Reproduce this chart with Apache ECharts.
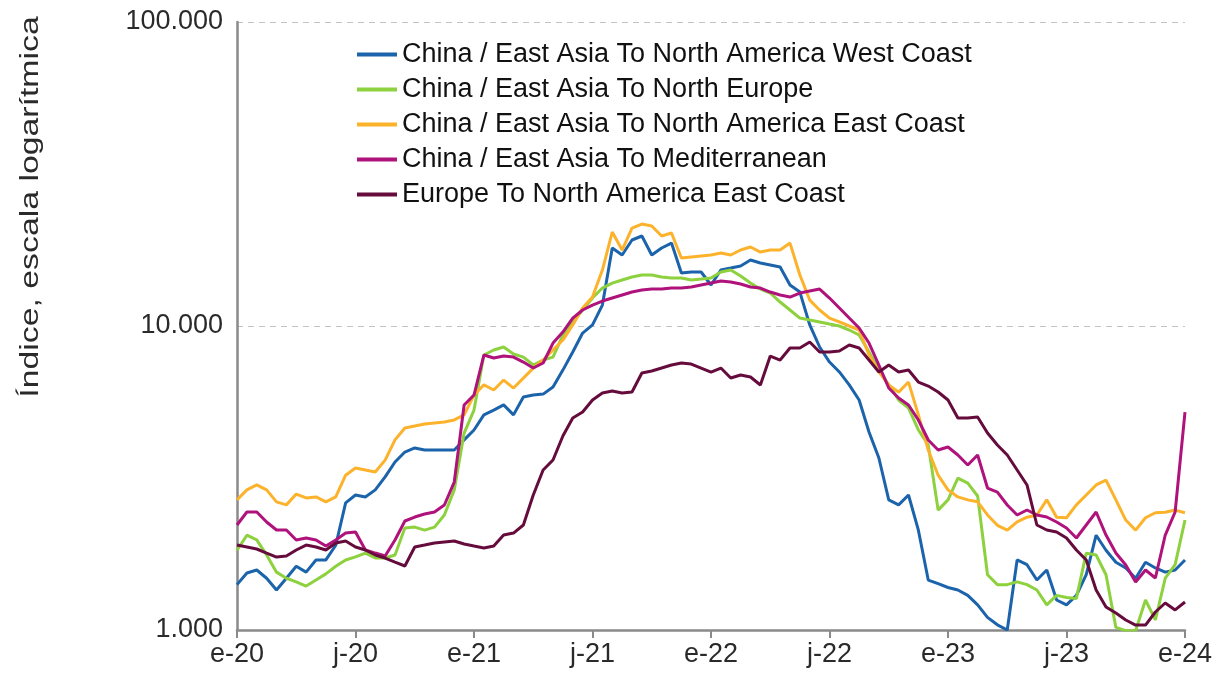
<!DOCTYPE html>
<html><head><meta charset="utf-8">
<script src="https://cdn.jsdelivr.net/npm/echarts@6/dist/echarts.min.js"></script>
<style>html,body{margin:0;padding:0;background:#fff}#c{width:1216px;height:684px}</style>
</head><body><div id="c"></div>
<script>
// Half-monthly samples, Jan 2020 .. Jan 2024 (97 points each)
const xTickLabels = ['e-20','j-20','e-21','j-21','e-22','j-22','e-23','j-23','e-24'];
const yTickLabels = {1000:'1.000', 10000:'10.000', 100000:'100.000'};
const seriesNames = [
  'China / East Asia To North America West Coast',
  'China / East Asia To North Europe',
  'China / East Asia To North America East Coast',
  'China / East Asia To Mediterranean',
  'Europe To North America East Coast'
];
const naWestCoast = [
  1410,1540,1575,1480,1354,1480,1620,1550,1700,1700,
  1900,2620,2780,2740,2890,3190,3570,3850,3970,3910,
  3910,3910,3910,4220,4550,5100,5290,5500,5100,5840,
  5930,5970,6300,7160,8210,9480,10080,11720,18050,17120,
  19180,19770,17120,18050,18740,14930,15050,15050,13640,15280,
  15510,15750,16480,16110,15870,15630,13640,12930,10080,8530,
  7610,7060,6400,5710,4480,3680,2680,2580,2780,2130,
  1460,1420,1380,1354,1300,1210,1100,1040,1000,1700,
  1640,1460,1575,1255,1210,1300,1520,2050,1830,1670,
  1600,1480,1670,1600,1550,1575,1700
];
const northEurope = [
  1830,2050,1980,1765,1550,1480,1440,1395,1460,1530,
  1620,1700,1740,1790,1725,1725,1765,2165,2180,2130,
  2180,2390,2890,4445,5290,8030,8340,8530,8090,7900,
  7440,7730,7900,9340,10310,11290,12360,13330,13840,14170,
  14490,14710,14710,14490,14380,14380,14170,14270,14380,15050,
  15280,14600,13840,13230,12840,11990,11290,10620,10460,10310,
  10150,10000,9700,9340,8210,7160,6400,5710,5370,4550,
  4060,2480,2680,3160,3040,2760,1520,1410,1410,1440,
  1410,1354,1210,1300,1280,1270,1790,1765,1520,1020,
  995,995,1255,1080,1480,1640,2300
];
const naEastCoast = [
  2680,2890,3000,2890,2640,2580,2800,2720,2740,2640,
  2740,3230,3410,3360,3310,3620,4220,4620,4690,4760,
  4800,4830,4910,5100,5930,6400,6160,6640,6250,6740,
  7270,7730,8340,8990,10080,11460,12450,15280,20370,17780,
  21000,21650,21320,19770,20220,16730,16860,16990,17120,17380,
  17120,17780,18190,17510,17780,17780,18740,14710,12170,11290,
  10620,10310,10000,9700,8030,7060,6400,6060,6540,5100,
  3910,3230,2890,2740,2680,2640,2390,2210,2130,2270,
  2350,2390,2680,2350,2340,2580,2780,3000,3110,2680,
  2300,2130,2340,2430,2440,2480,2430
];
const mediterranean = [
  2215,2444,2444,2266,2133,2133,1977,2007,1977,1889,
  1977,2084,2100,1833,1791,1751,1977,2283,2353,2407,
  2444,2577,3067,5496,5928,8026,7846,7965,7905,7611,
  7274,7554,8789,9552,10620,11286,11720,12080,12360,12643,
  12932,13131,13231,13230,13332,13330,13432,13637,13844,14056,
  13949,13740,13432,13332,12932,12643,12453,12835,13031,13231,
  12360,11459,10620,9848,8789,7440,6252,5796,5496,4906,
  4217,3909,3998,3763,3489,3763,2931,2843,2577,2389,
  2481,2389,2353,2266,2165,2007,2215,2444,2053,1791,
  1636,1438,1575,1483,2053,2444,5212
];
const europeNAEastCoast = [
  1903,1875,1847,1791,1738,1751,1833,1903,1875,1833,
  1932,1962,1875,1833,1765,1725,1673,1624,1875,1903,
  1932,1947,1962,1918,1889,1861,1889,2053,2084,2215,
  2780,3360,3624,4346,4981,5212,5708,6018,6110,6018,
  6064,7003,7110,7274,7440,7554,7497,7274,7056,7274,
  6744,6898,6794,6395,7965,7728,8464,8464,8855,8210,
  8210,8272,8657,8464,7728,7056,7440,7060,7165,6541,
  6346,6064,5708,4981,4981,5018,4445,4059,3763,3360,
  3000,2215,2133,2100,2007,1833,1699,1354,1190,1137,
  1079,1038,1038,1146,1227,1164,1236
];
const seriesColors = ['#1B63AA','#8DD13E','#FDB22C','#B0127B','#660C3D'];

const allValues = [naWestCoast, northEurope, naEastCoast, mediterranean, europeNAEastCoast];
const FONT = '"Liberation Sans", Arial, sans-serif';

const chart = echarts.init(document.getElementById('c'), null, {renderer: 'canvas'});
chart.setOption({
  animation: false,
  backgroundColor: '#ffffff',
  grid: {left: 237, right: 31, top: 22, bottom: 54, containLabel: false, outerBoundsMode: 'none'},
  legend: {
    orient: 'vertical', left: 352, top: 36,
    icon: 'rect', itemWidth: 40, itemHeight: 4, itemGap: 8,
    textStyle: {fontSize: 27, fontFamily: FONT, color: '#111', lineHeight: 27},
    data: seriesNames
  },
  xAxis: {
    type: 'value', min: 0, max: 48, interval: 6,
    axisLine: {show: true, lineStyle: {color: '#8a8a8a', width: 2.5}},
    axisTick: {show: true, length: 8, lineStyle: {color: '#8a8a8a', width: 2}},
    splitLine: {show: false},
    axisLabel: {margin: 11, fontSize: 27, fontFamily: FONT, color: '#2a2a2a',
      formatter: v => xTickLabels[Math.round(v / 6)] || ''}
  },
  yAxis: {
    type: 'log', logBase: 10, min: 1000, max: 100000,
    axisLine: {show: true, lineStyle: {color: '#8a8a8a', width: 2.5}},
    axisTick: {show: false},
    minorTick: {show: false},
    splitLine: {show: true, lineStyle: {color: '#c4c4c4', type: [6, 5], width: 1.2}},
    axisLabel: {margin: 14, fontSize: 27, fontFamily: FONT, color: '#2a2a2a',
      formatter: v => yTickLabels[Math.round(v)] || ''}
  },
  graphic: [{
    type: 'text', x: 31, y: 207, rotation: Math.PI / 2, scaleX: 1.3,
    style: {text: 'Índice, escala logarítmica', font: '26px ' + FONT, fill: '#2a2a2a',
      align: 'center', verticalAlign: 'middle'}
  }],
  series: allValues.map((arr, s) => ({
    name: seriesNames[s], type: 'line', showSymbol: false, symbol: 'none',
    color: seriesColors[s],
    lineStyle: {width: 3, color: seriesColors[s]},
    data: arr.map((v, i) => [i / 2, v])
  }))
});
</script>
</body></html>
